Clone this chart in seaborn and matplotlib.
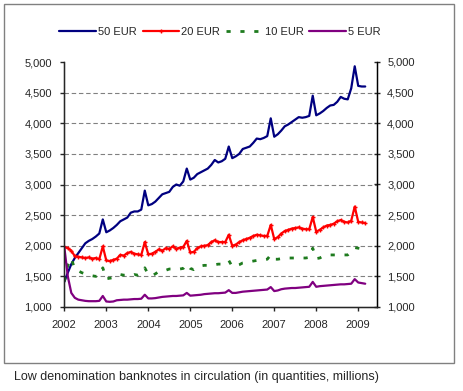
import numpy as np
import pandas as pd
import seaborn as sns
import matplotlib.pyplot as plt
from matplotlib.patches import Rectangle

# monthly values, Jan 2002 - Mar 2009 (millions of banknotes)
eur50 = [1410, 1560, 1700, 1800, 1880, 1960, 2040, 2080, 2110, 2150, 2200, 2430,
         2220, 2250, 2290, 2340, 2400, 2430, 2460, 2540, 2560, 2560, 2590, 2900,
         2660, 2680, 2720, 2780, 2840, 2860, 2880, 2960, 3000, 2980, 3050, 3260,
         3080, 3110, 3170, 3200, 3230, 3260, 3320, 3400, 3360, 3380, 3420, 3620,
         3430, 3460, 3500, 3580, 3600, 3620, 3680, 3750, 3740, 3760, 3790, 4080,
         3780, 3820, 3880, 3950, 3980, 4020, 4060, 4100, 4090, 4100, 4120, 4450,
         4130, 4160, 4200, 4250, 4290, 4300, 4350, 4430, 4400, 4390, 4570, 4930,
         4610, 4600, 4600]
eur20 = [1985, 1960, 1920, 1830, 1820, 1810, 1800, 1810, 1790, 1800, 1780, 1990,
         1760, 1750, 1770, 1790, 1850, 1840, 1880, 1900, 1870, 1860, 1850, 2060,
         1860, 1870, 1900, 1940, 1920, 1960, 1950, 1990, 1950, 1970, 1980, 2080,
         1890, 1900, 1960, 1990, 2000, 2010, 2060, 2090, 2060, 2060, 2060, 2180,
         2000, 2020, 2060, 2090, 2110, 2130, 2160, 2180, 2170, 2160, 2160, 2340,
         2110, 2140, 2200, 2240, 2260, 2280, 2290, 2300, 2280, 2270, 2270, 2470,
         2230, 2260, 2300, 2330, 2340, 2360, 2400, 2420, 2390, 2380, 2410, 2640,
         2390, 2380, 2370]
eur10 = [1420, 1680, 1800, 1610, 1590, 1560, 1540, 1520, 1510, 1500, 1520, 1640,
         1460, 1470, 1480, 1500, 1530, 1520, 1520, 1510, 1530, 1520, 1550, 1640,
         1530, 1510, 1540, 1580, 1600, 1600, 1620, 1620, 1610, 1620, 1630, 1700,
         1630, 1610, 1650, 1670, 1680, 1680, 1690, 1690, 1700, 1700, 1710, 1760,
         1660, 1670, 1690, 1720, 1730, 1740, 1750, 1760, 1760, 1770, 1780, 1850,
         1780, 1780, 1790, 1790, 1800, 1800, 1800, 1800, 1800, 1800, 1810, 1960,
         1790, 1800, 1830, 1850, 1850, 1850, 1850, 1850, 1850, 1850, 1900, 1970,
         1960, 1950, 1950]
eur5 = [1980, 1500, 1230, 1150, 1120, 1110, 1100, 1095, 1095, 1095, 1100, 1180,
        1090, 1085, 1090, 1110, 1115, 1120, 1120, 1125, 1130, 1130, 1135, 1200,
        1140, 1140, 1145, 1155, 1165, 1170, 1175, 1180, 1180, 1185, 1190, 1230,
        1185, 1190, 1195, 1200, 1210, 1215, 1220, 1225, 1225, 1230, 1235, 1275,
        1230, 1230, 1240, 1250, 1255, 1260, 1265, 1270, 1275, 1280, 1285, 1325,
        1260, 1270, 1290, 1300, 1305, 1310, 1310, 1315, 1320, 1325, 1330, 1410,
        1330, 1340, 1345, 1350, 1355, 1360, 1365, 1370, 1370, 1375, 1380, 1455,
        1400, 1390, 1380]

year_ticks = [2002, 2003, 2004, 2005, 2006, 2007, 2008, 2009]
y_ticks = [1000, 1500, 2000, 2500, 3000, 3500, 4000, 4500, 5000]
y_labels = ['1,000', '1,500', '2,000', '2,500', '3,000', '3,500', '4,000', '4,500', '5,000']
caption = 'Low denomination banknotes in circulation (in quantities, millions)'

sns.set_style('white')
plt.rcParams['font.family'] = ['Liberation Sans', 'DejaVu Sans']

months = pd.date_range('2002-01-01', periods=len(eur50), freq='MS')
t = np.asarray(months.year + (months.month - 1) / 12.0)

fig = plt.figure(figsize=(4.63, 3.91), dpi=100)
ax = fig.add_axes([64.3 / 463, 1 - 307 / 391, (376.7 - 64.3) / 463, 245 / 391])

sns.lineplot(x=t, y=eur50, ax=ax, color='#000080', lw=1.6, label='50 EUR')
sns.lineplot(x=t, y=eur20, ax=ax, color='#ff0000', lw=1.6, marker='+', ms=3,
             mew=1, mec='#ff0000', label='20 EUR')
sns.lineplot(x=t, y=eur10, ax=ax, color='#1e7b1e', lw=2.0, dashes=False, label='10 EUR')
ax.lines[-1].set_dashes((1.5, 3.5))
sns.lineplot(x=t, y=eur5, ax=ax, color='#800080', lw=1.6, label='5 EUR')

handles, labels = ax.get_legend_handles_labels()
ax.get_legend().remove()
fig.legend(handles, labels, loc='center', bbox_to_anchor=(220 / 463, 1 - 32 / 391),
           ncol=4, frameon=False, fontsize=8, handlelength=3.3, handletextpad=0.2,
           columnspacing=0.5, numpoints=1)

ax.set_xlim(2002, 2009.44)
ax.set_ylim(1000, 5000)
ax.set_xticks(year_ticks)
ax.set_xticklabels([str(y) for y in year_ticks])
ax.set_yticks(y_ticks)
ax.set_yticklabels(y_labels)
ax.yaxis.grid(True, ls=(0, (4, 2.5)), color='#808080', lw=0.8)
gl = ax.get_ygridlines()
gl[0].set_visible(False)
gl[-1].set_visible(False)
ax.tick_params(axis='y', direction='out', length=3, width=1, pad=6, labelsize=8, left=True)
ax.tick_params(axis='x', direction='out', length=3, width=1, pad=6, labelsize=8, bottom=True)
ax.spines['top'].set_visible(False)
for s in ['left', 'right', 'bottom']:
    ax.spines[s].set_color('black')
    ax.spines[s].set_linewidth(1)

ax2 = ax.twinx()
ax2.set_ylim(1000, 5000)
ax2.set_yticks(y_ticks)
ax2.set_yticklabels(y_labels)
ax2.tick_params(axis='y', direction='inout', length=5, width=1, pad=5, labelsize=8, right=True)
ax2.spines['top'].set_visible(False)
ax2.spines['right'].set_color('black')
ax2.grid(False)

fig.patches.append(Rectangle((4 / 463, 1 - 363 / 391), 450 / 463, 359 / 391,
                             transform=fig.transFigure, fill=False,
                             edgecolor='#808080', lw=1))
fig.text(14 / 463, 1 - 377 / 391, caption, fontsize=9, va='center', ha='left')

fig.savefig('out.png', dpi=100)
